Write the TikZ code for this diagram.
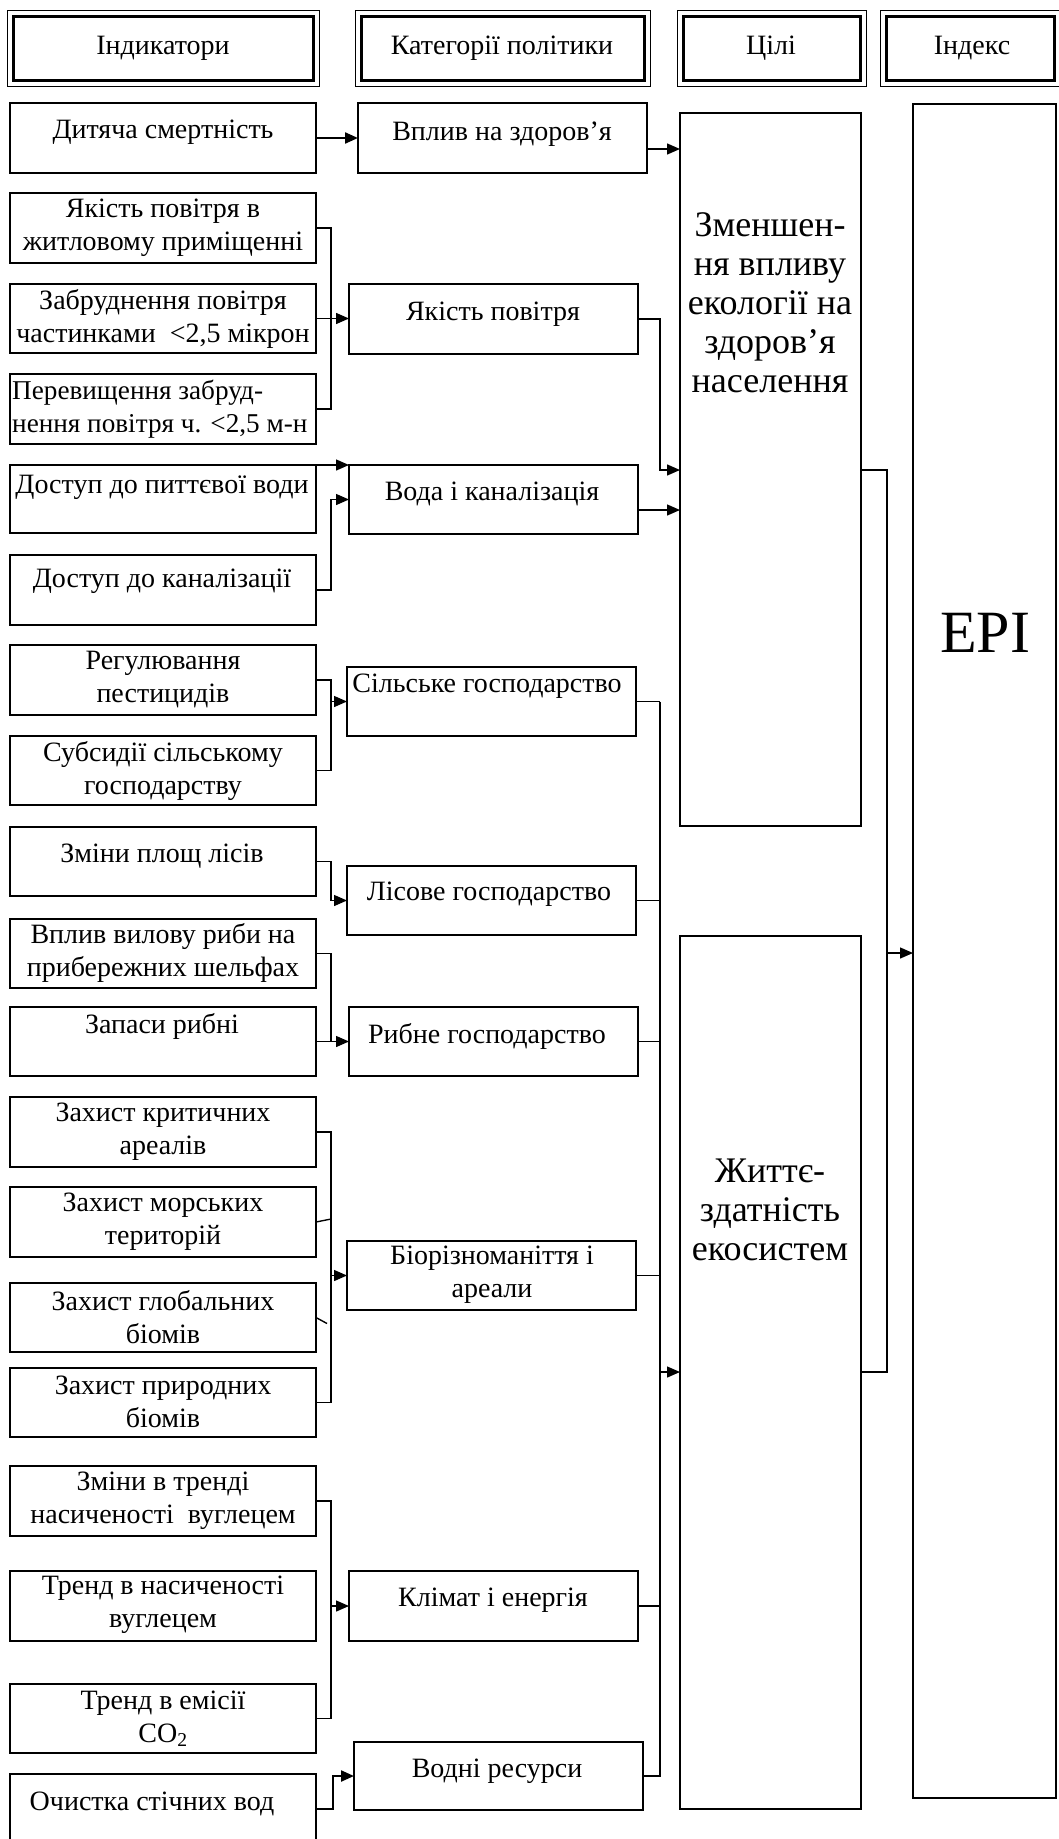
\documentclass[tikz,border=0pt]{standalone}
\usepackage{fontspec}
\setmainfont{Liberation Serif}
\usetikzlibrary{arrows.meta}
\newcommand\bx[5]{\node[box, minimum width={(#4)-(#2)}, minimum height={(#5)-(#3)}] (#1) at (#2,#3) {};}
\begin{document}
\begin{tikzpicture}[x=1pt,y=-1pt,
  box/.style={draw, line width=1.4pt, inner sep=0pt, outer sep=0pt, anchor=north west},
  hdr/.style={draw, line width=3pt, inner sep=0pt, outer sep=0pt, anchor=north west},
  txt/.style={inner sep=0pt, align=center, font=\fontsize{28}{33}\selectfont},
  big/.style={inner sep=0pt, align=center, font=\fontsize{36}{39}\selectfont},
  conn/.style={draw, line width=1.4pt},
  thk/.style={draw, line width=2.2pt},
  arr/.style={-{Triangle[length=13pt,width=11pt]}},
]
\useasboundingbox (0,0) rectangle (1059,1839);

% ---------- header ----------
\node[hdr, minimum width=300, minimum height=64] (h1) at (13,16) {};
\node[hdr, minimum width=283, minimum height=64] (h2) at (361,16) {};
\node[hdr, minimum width=177, minimum height=64] (h3) at (683,16) {};
\node[hdr, minimum width=168, minimum height=64] (h4) at (886,16) {};
\foreach \h in {h1,h2,h3,h4}
  \draw[line width=1pt] ([shift={(-6,-6)}]\h.north west) rectangle ([shift={(6,6)}]\h.south east);
\node[txt] (th1) at (163,48) {Індикатори};
\node[txt] (th2) at (502,48) {Категорії політики};
\node[txt] (th3) at (771,48) {Цілі};
\node[txt] (th4) at (972,48) {Індекс};

% ---------- indicators ----------
\bx{i1}{10}{103}{316}{173}
\bx{i2}{10}{193}{316}{263}
\bx{i3}{10}{284}{316}{353}
\bx{i4}{10}{374}{316}{444}
\bx{i5}{10}{465}{316}{533}
\bx{i6}{10}{555}{316}{625}
\bx{i7}{10}{645}{316}{715}
\bx{i8}{10}{736}{316}{805}
\bx{i9}{10}{827}{316}{896}
\bx{i10}{10}{919}{316}{988}
\bx{i11}{10}{1007}{316}{1076}
\bx{i12}{10}{1097}{316}{1167}
\bx{i13}{10}{1187}{316}{1257}
\bx{i14}{10}{1283}{316}{1352}
\bx{i15}{10}{1368}{316}{1437}
\bx{i16}{10}{1466}{316}{1536}
\bx{i17}{10}{1571}{316}{1641}
\bx{i18}{10}{1684}{316}{1753}
\bx{i19}{10}{1774}{316}{1844}

\node[txt] (ti1) at (163,132) {Дитяча смертність};
\node[txt] (ti2) at (163,228) {Якість повітря в\\житловому приміщенні};
\node[txt] (ti3) at (163,319) {Забруднення повітря\\частинками~ <2,5 мікрон};
\node[txt, align=left, anchor=west, font=\fontsize{27.2}{33}\selectfont] (ti4) at (12,409) {Перевищення забруд-\\нення повітря ч. <2,5 м-н};
\node[txt] (ti5) at (162,487) {Доступ до питтєвої води};
\node[txt] (ti6) at (162,581) {Доступ до каналізації};
\node[txt] (ti7) at (163,680) {Регулювання\\пестицидів};
\node[txt] (ti8) at (163,771) {Субсидії сільському\\господарству};
\node[txt] (ti9) at (162,856) {Зміни площ лісів};
\node[txt] (ti10) at (163,953) {Вплив вилову риби на\\прибережних шельфах};
\node[txt] (ti11) at (162,1026) {Запаси рибні};
\node[txt] (ti12) at (163,1132) {Захист критичних\\ареалів};
\node[txt] (ti13) at (163,1222) {Захист морських\\територій};
\node[txt] (ti14) at (163,1317) {Захист глобальних\\біомів};
\node[txt] (ti15) at (163,1402) {Захист природних\\біомів};
\node[txt] (ti16) at (163,1501) {Зміни в тренді\\насиченості~ вуглецем};
\node[txt] (ti17) at (163,1605) {Тренд в насиченості\\вуглецем};
\node[txt] (ti18) at (163,1719) {Тренд в емісії\\CO\textsubscript{2}};
\node[txt] (ti19) at (152,1804) {Очистка стічних вод};

% ---------- categories ----------
\bx{c1}{358}{103}{647}{173}
\bx{c2}{349}{284}{638}{354}
\bx{c3}{349}{465}{638}{534}
\bx{c4}{347}{667}{636}{736}
\bx{c5}{347}{866}{636}{935}
\bx{c6}{349}{1007}{638}{1076}
\bx{c7}{347}{1241}{636}{1310}
\bx{c8}{349}{1571}{638}{1641}
\bx{c9}{354}{1742}{643}{1810}

\node[txt] (tc1) at (502,134) {Вплив на здоров’я};
\node[txt] (tc2) at (493,314) {Якість повітря};
\node[txt] (tc3) at (492,494) {Вода і каналізація};
\node[txt] (tc4) at (487,686) {Сільське господарство};
\node[txt] (tc5) at (489,894) {Лісове господарство};
\node[txt] (tc6) at (487,1036) {Рибне господарство};
\node[txt] (tc7) at (492,1275) {Біорізноманіття і\\ареали};
\node[txt] (tc8) at (493,1600) {Клімат і енергія};
\node[txt] (tc9) at (497,1771) {Водні ресурси};

% ---------- goals and index ----------
\bx{g1}{680}{113}{861}{826}
\bx{g2}{680}{936}{861}{1809}
\bx{ix}{913}{104}{1056}{1798}
\node[big] (tg1) at (770,303) {Зменшен-\\ня впливу\\екології на\\здоров’я\\населення};
\node[big] (tg2) at (770,1210) {Життє-\\здатність\\екосистем};
\node[inner sep=0pt, font=\fontsize{60}{66}\selectfont] (tix) at (985,633) {EPI};

% ---------- named points ----------
\coordinate (g1a) at (680,149);
\coordinate (g1b) at (680,470);
\coordinate (g1c) at (680,510);
\coordinate (g2a) at (680,1372);
\coordinate (busR) at (660,0);
\coordinate (busI) at (887,0);
\coordinate (ixa) at (913,953);

% ---------- connectors ----------
\draw[thk, arr] (i1.east) -- (i1.east -| c1.west);
\draw[conn, arr] (c1.east |- g1a) -- (g1a);

\draw[conn] (i2.east) -- ++(15,0) |- (i4.east);
\draw[conn, arr] (i3.east) -- (i3.east -| c2.west);
\draw[conn, arr] (c2.east) -- (c2.east -| busR) |- (g1b);

\draw[conn, arr] (i5.north east) -- (c3.north west);
\draw[conn, arr] (i6.east) -- ++(15,0) |- (c3.west);
\draw[conn, arr] (c3.east |- g1c) -- (g1c);

\draw[conn] (i7.east) -- ++(15,0) |- (i8.east);
\draw[conn, arr] ([xshift=-16pt]c4.west) -- (c4.west);
\draw[conn] (c4.east) -- (c4.east -| busR);

\draw[conn, arr] (i9.east) -- ++(15,0) |- (c5.west);
\draw[conn] (c5.east) -- (c5.east -| busR);

\draw[conn, arr] (i10.east) -- ++(15,0) |- (c6.west);
\draw[conn] (i11.east) -- ++(15,0);
\draw[conn] (c6.east) -- (c6.east -| busR);

\draw[conn] (i12.east) -- ++(15,0) |- (i15.east);
\draw[conn] (i13.east) -- ++(15,-3);
\draw[conn] (i14.east) -- ++(11,6);
\draw[conn, arr] ([xshift=-16pt]c7.west) -- (c7.west);
\draw[conn] (c7.east) -- (c7.east -| busR);

\draw[conn, arr] (c4.east -| busR) |- (g2a);

\draw[conn] (i16.east) -- ++(15,0) |- (i18.east);
\draw[conn, arr] ([xshift=-18pt]c8.west) -- (c8.west);
\draw[conn] (c8.east) -- (c8.east -| busR);

\draw[thk, arr] (i19.east) -- ++(17,0) |- (c9.west);
\draw[thk] (c9.east) -| (g2a -| busR);

\draw[conn] (g1b -| g1.east) -- (g1b -| busI) -- (g2a -| busI) -- (g2a -| g2.east);
\draw[conn, arr] (ixa -| busI) -- (ixa);
\end{tikzpicture}
\end{document}
